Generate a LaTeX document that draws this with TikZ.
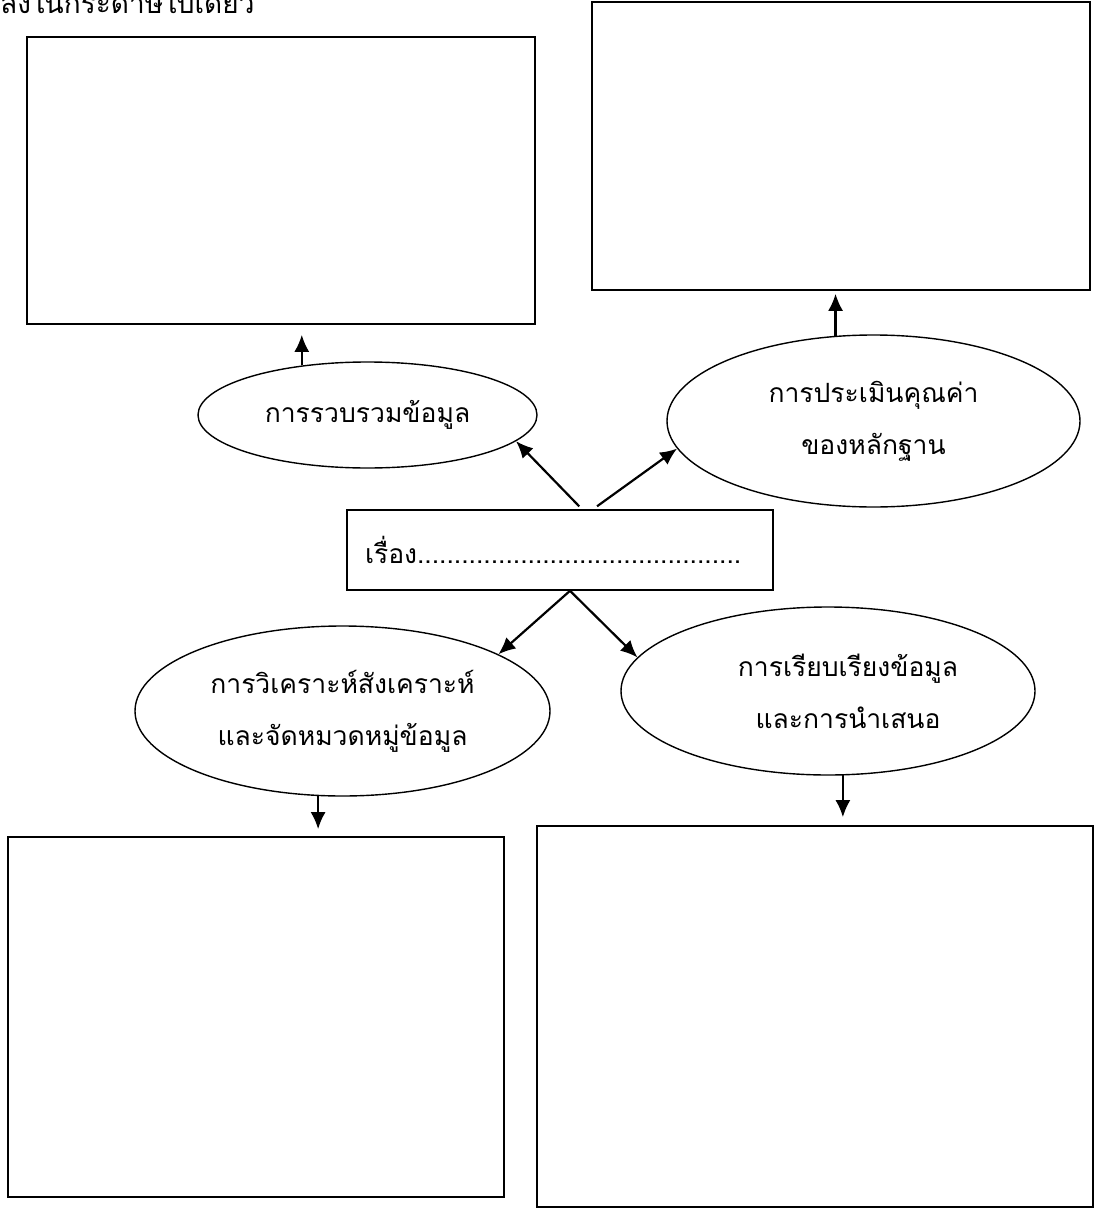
\documentclass[tikz,border=0pt]{standalone}
\usepackage{fontspec}
\newfontfamily\thaifont[Script=Thai]{Loma}
\usetikzlibrary{shapes.geometric,arrows.meta}

\begin{document}
\begin{tikzpicture}[x=1pt, y=-1pt,
    font=\thaifont\fontsize{26.5}{52}\selectfont,
    panel/.style={draw, line width=1.6pt, inner sep=0pt},
    bubble/.style={draw, ellipse, line width=1.4pt, inner sep=0pt, align=center},
    arr/.style={->, line width=2.2pt},
    >={Latex[length=17pt,width=15pt]}]
    \useasboundingbox (0,0) rectangle (1094,1209);

    \node[anchor=base west, inner sep=0pt, font=\thaifont\fontsize{28}{30}\selectfont] (note) at (0,14) {ลงในกระดาษใบเดียว};

    % empty answer panels
    \node[panel, minimum width=508pt, minimum height=287pt] (gatherbox) at (281,180.5) {};
    \node[panel, minimum width=498pt, minimum height=288pt] (assessbox) at (841,146) {};
    \node[panel, minimum width=496pt, minimum height=360pt] (analysebox) at (256,1017) {};
    \node[panel, minimum width=556pt, minimum height=381pt] (presentbox) at (815,1016.5) {};

    % topic
    \node[panel, minimum width=426pt, minimum height=80pt, text width=390pt,
          inner xsep=18pt, align=left] (title) at (560,550)
          {เรื่อง............................................};

    % steps
    \node[bubble, minimum width=339pt, minimum height=106pt] (collect) at (367.5,415) {การรวบรวมข้อมูล};
    \node[bubble, minimum width=413pt, minimum height=172pt] (assess) at (873.5,421) {การประเมินคุณค่า\\ของหลักฐาน};
    \node[bubble, minimum width=415pt, minimum height=170pt] (analyse) at (342.5,711) {การวิเคราะห์สังเคราะห์\\และจัดหมวดหมู่ข้อมูล};
    \node[bubble, minimum width=414pt, minimum height=168pt] (present) at (828,691) {\hspace*{40pt}การเรียบเรียงข้อมูล\\\hspace*{40pt}และการนำเสนอ};

    \draw[arr, shorten <=4pt] ([xshift=22pt]title.north) -- (collect.-10);
    \draw[arr, shorten <=5pt] ([xshift=33pt]title.north) -- (assess.188);
    \draw[arr] ([xshift=10pt]title.south) -- (analyse.20);
    \draw[arr] ([xshift=10pt]title.south) -- (present.170);

    \draw[arr, shorten >=10pt] (collect.143) -- (collect.143 |- gatherbox.south);
    \draw[arr, shorten >=3pt] (assess.114) -- (assess.114 |- assessbox.south);
    \draw[arr, shorten >=7pt] (analyse.254) -- (analyse.254 |- analysebox.north);
    \draw[arr, shorten >=8pt] (present.280) -- (present.280 |- presentbox.north);
  \end{tikzpicture}
\end{document}
